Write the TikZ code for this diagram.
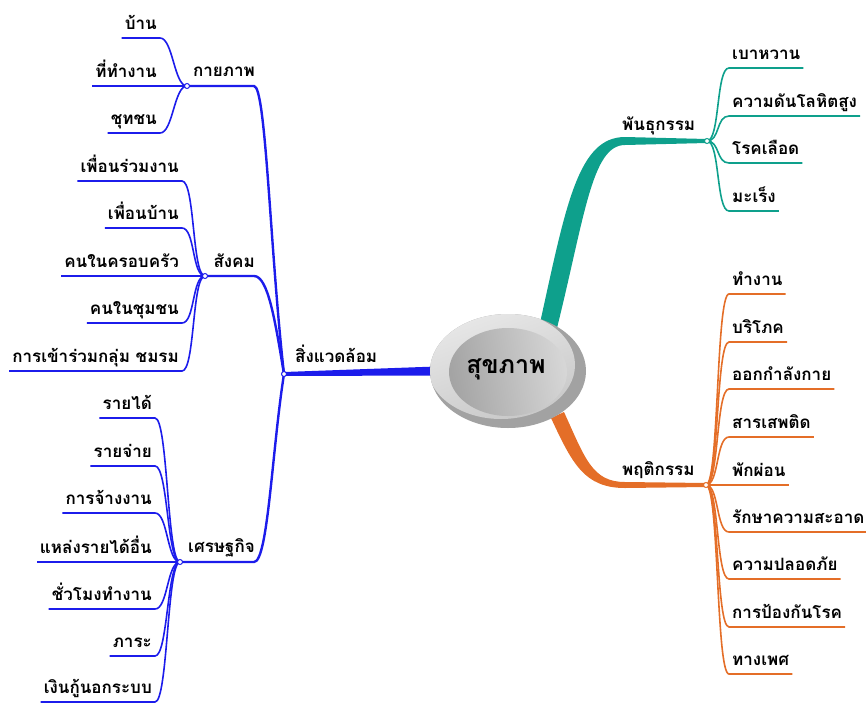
\documentclass[tikz,border=0pt]{standalone}
\usepackage{fontspec}
\newfontfamily\thai[Script=Thai]{Loma}
\usetikzlibrary{calc,shapes.geometric}
\definecolor{envc}{RGB}{28,28,235}
\definecolor{genc}{RGB}{14,160,140}
\definecolor{behc}{RGB}{228,110,40}
\definecolor{gdark}{RGB}{162,162,162}
\definecolor{glight}{RGB}{232,232,232}
\definecolor{gmid}{RGB}{200,200,200}
\definecolor{ginA}{RGB}{164,164,164}
\definecolor{ginB}{RGB}{214,214,214}
\begin{document}
\begin{tikzpicture}[x=1pt,y=-1pt,
  font=\fontsize{17}{20}\selectfont\thai\bfseries,
  leafL/.style={anchor=south east, inner xsep=3pt, inner ysep=0pt, text depth=8pt, text height=16pt},
  leafR/.style={anchor=south west, inner xsep=3pt, inner ysep=0pt, text depth=8pt, text height=16pt},
  leafline/.style={line width=1.6pt},
  subline/.style={line width=2.4pt},
  hub/.style={circle, draw=#1, fill=white, line width=1pt, inner sep=0pt, minimum size=5pt},
  lbl/.style={inner sep=0pt}]
\useasboundingbox (0,0) rectangle (866,704);

% core shape (placeholder for geometry)
\node[ellipse, minimum width=156pt, minimum height=114pt, inner sep=0pt] (core) at (508,371) {};

% hubs
\coordinate (hEnv) at (284,374);
\coordinate (hPhys) at (187,86);
\coordinate (hSoc) at (205,276);
\coordinate (hEco) at (180,562);
\coordinate (hGen) at (707,141);
\coordinate (hBeh) at (706,485);

% main branches
\fill[envc] ($(hEnv)+(0,-2)$) -- ($(core.center)+(-72,-4.5)$) -- ($(core.center)+(-72,4.5)$) -- ($(hEnv)+(0,2)$) -- cycle;
\fill[genc] ($(core.center)+(32,-48)$) .. controls (566,205) and (578,137) .. (625,137) -- ($(hGen)+(0,-2)$) -- ($(hGen)+(0,2)$) -- (625,145) .. controls (592,145) and (585,215) .. ($(core.center)+(49,-43)$) -- cycle;
\fill[behc] ($(core.center)+(56,41)$) .. controls (585,458) and (592,482) .. (625,482) -- ($(hBeh)+(0,-2)$) -- ($(hBeh)+(0,2)$) -- (625,488) .. controls (584,488) and (572,463) .. ($(core.center)+(43,47)$) -- cycle;

% sub branches (environment)
\draw[envc, subline] (hEnv) .. controls (270,250) and (266,86) .. (254,86) -- (hPhys);
\draw[envc, subline] (hEnv) .. controls (275,320) and (268,276) .. (254,276) -- (hSoc);
\draw[envc, subline] (hEnv) .. controls (272,450) and (268,562) .. (254,562) -- (hEco);

% labels of branches
\node[lbl, anchor=base west] (lEnv) at (295,362) {สิ่งแวดล้อม};
\node[lbl, anchor=base east] (lPhys) at (255,76) {กายภาพ};
\node[lbl, anchor=base east] (lSoc) at (255,267) {สังคม};
\node[lbl, anchor=base east] (lEco) at (255,552) {เศรษฐกิจ};
\node[lbl, anchor=base west] (lGen) at (622,130) {พันธุกรรม};
\node[lbl, anchor=base west] (lBeh) at (622,475) {พฤติกรรม};

% leaves: physical
\foreach \n/\y/\t in {p1/38/บ้าน, p2/86/ที่ทำงาน, p3/133/ชุทชน} {
  \node[leafL] (\n) at (160,\y) {\t};
  \draw[envc, leafline] (hPhys) .. controls ($(hPhys)+(-13,0)$) and ($(\n.south east)+(13,0)$) .. (\n.south east) -- (\n.south west);
}
% leaves: social
\foreach \n/\y/\t in {s1/181/เพื่อนร่วมงาน, s2/228/เพื่อนบ้าน, s3/276/คนในครอบครัว, s4/323/คนในชุมชน, s5/371/การเข้าร่วมกลุ่ม ชมรม} {
  \node[leafL] (\n) at (182,\y) {\t};
  \draw[envc, leafline] (hSoc) .. controls ($(hSoc)+(-13,0)$) and ($(\n.south east)+(13,0)$) .. (\n.south east) -- (\n.south west);
}
% leaves: economy
\foreach \n/\y/\t in {e1/418/รายได้, e2/466/รายจ่าย, e3/513/การจ้างงาน, e4/562/แหล่งรายได้อื่น, e5/609/ชั่วโมงทำงาน, e6/656/ภาระ, e7/702/เงินกู้นอกระบบ} {
  \node[leafL] (\n) at (155,\y) {\t};
  \draw[envc, leafline] (hEco) .. controls ($(hEco)+(-13,0)$) and ($(\n.south east)+(13,0)$) .. (\n.south east) -- (\n.south west);
}
% leaves: genetics
\foreach \n/\y/\t in {g1/68/เบาหวาน, g2/116/ความดันโลหิตสูง, g3/163/โรคเลือด, g4/211/มะเร็ง} {
  \node[leafR] (\n) at (729,\y) {\t};
  \draw[genc, leafline] (hGen) .. controls ($(hGen)+(13,0)$) and ($(\n.south west)+(-13,0)$) .. (\n.south west) -- (\n.south east);
}
% leaves: behaviour
\foreach \n/\y/\t in {b1/294/ทำงาน, b2/342/บริโภค, b3/389/ออกกำลังกาย, b4/437/สารเสพติด, b5/485/พักผ่อน, b6/532/รักษาความสะอาด, b7/579/ความปลอดภัย, b8/627/การป้องกันโรค, b9/674/ทางเพศ} {
  \node[leafR] (\n) at (729,\y) {\t};
  \draw[behc, leafline] (hBeh) .. controls ($(hBeh)+(13,0)$) and ($(\n.south west)+(-13,0)$) .. (\n.south west) -- (\n.south east);
}

% hub dots
\node[hub=envc] (dEnv) at (hEnv) {};
\node[hub=envc] (dPhys) at (hPhys) {};
\node[hub=envc] (dSoc) at (hSoc) {};
\node[hub=envc] (dEco) at (hEco) {};
\node[hub=genc] (dGen) at (hGen) {};
\node[hub=behc] (dBeh) at (hBeh) {};

% core drawing
\fill[gdark] (core.center) ellipse [x radius=78, y radius=57];
\begin{scope}
  \clip (core.center) ellipse [x radius=78, y radius=57];
  \shade[top color=glight, bottom color=gmid, shading angle=20] ($(core.center)+(-7,-6)$) ellipse [x radius=74, y radius=54];
\end{scope}
\shade[left color=ginA, right color=ginB, shading angle=100] ($(core.center)+(0,1)$) ellipse [x radius=59, y radius=44];
\node[font=\fontsize{25}{28}\selectfont\thai\bfseries] (coreText) at (506,369) {สุขภาพ};
\end{tikzpicture}
\end{document}
